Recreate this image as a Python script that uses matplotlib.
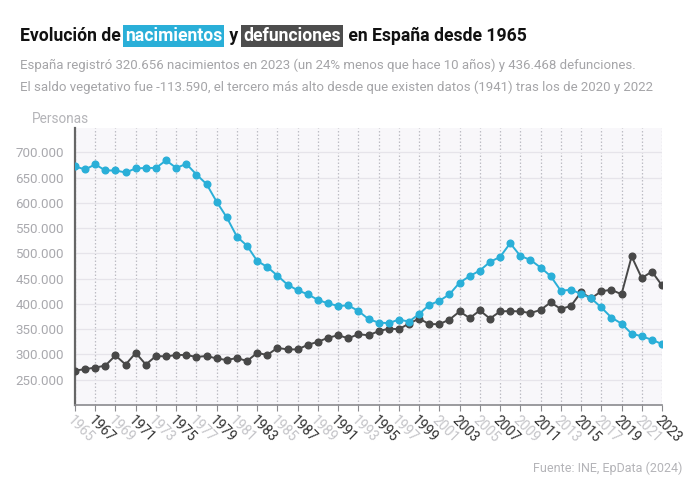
import matplotlib
matplotlib.use("Agg")
import matplotlib.pyplot as plt
from matplotlib.ticker import FuncFormatter

years = list(range(1965, 2024))
nacimientos = [672000, 666000, 676000, 664000, 664000, 660000, 668000, 669000, 669000, 684000,
               669000, 677000, 656000, 637000, 602000, 571000, 533000, 515000, 485000, 473000,
               456000, 438000, 427000, 419000, 408000, 401000, 396000, 397000, 386000, 370000,
               363000, 362000, 369000, 365000, 380000, 398000, 406000, 419000, 442000, 455000,
               466000, 483000, 493000, 520000, 495000, 487000, 472000, 455000, 426000, 428000,
               420000, 411000, 393000, 373000, 361000, 341000, 336000, 329000, 320656]
defunciones = [268000, 271000, 274000, 278000, 298000, 280000, 303000, 280000, 297000, 296000,
               299000, 299000, 295000, 297000, 292000, 289000, 293000, 287000, 303000, 299000,
               313000, 310000, 310000, 319000, 325000, 333000, 338000, 332000, 340000, 338000,
               346000, 351000, 350000, 361000, 371000, 360000, 360000, 369000, 385000, 372000,
               387000, 371000, 385000, 386000, 385000, 382000, 388000, 403000, 390000, 396000,
               423000, 411000, 425000, 428000, 419000, 494000, 451000, 464000, 436468]
tick_years = list(range(1965, 2024, 2))
y_ticks = list(range(250000, 700001, 50000))

C_NAC = "#2aafd8"
C_DEF = "#484848"
GRAY = "#a9a9ae"

plt.rcParams['font.family'] = ['Roboto', 'DejaVu Sans']

W, H = 690, 498
fig = plt.figure(figsize=(W / 100, H / 100), dpi=100)
ax = fig.add_axes([75 / W, 1 - 405 / H, (662 - 75) / W, (405 - 128) / H])
ax.set_facecolor("#f8f7fa")

ax.plot(years, defunciones, color=C_DEF, lw=1.4, marker="o", ms=4.8, zorder=3)
ax.plot(years, nacimientos, color=C_NAC, lw=1.4, marker="o", ms=4.8, zorder=4)

ax.set_xlim(1965, 2023)
ax.set_ylim(200000, 748000)
ax.set_xticks(tick_years)
ax.set_yticks(y_ticks)
ax.yaxis.set_major_formatter(FuncFormatter(lambda v, p: f"{int(v):,}".replace(",", ".")))
ax.grid(axis="x", color="#bdbdc4", linestyle=(0, (1.2, 1.6)), lw=0.9, zorder=1)
ax.grid(axis="y", color="#e6e4ea", linestyle="-", lw=0.9, zorder=1)
for s in ["top", "right"]:
    ax.spines[s].set_visible(False)
ax.spines["left"].set_color("#666666")
ax.spines["left"].set_linewidth(1.6)
ax.spines["bottom"].set_color("#8a8a8e")
ax.spines["bottom"].set_linewidth(1.2)
ax.tick_params(axis="y", length=0, labelsize=9.6, labelcolor=GRAY, pad=8)
ax.tick_params(axis="x", length=4, color="#8a8a8e", labelsize=10, pad=2)
ax.set_xticklabels([str(y) for y in tick_years], rotation=-45, ha="left", rotation_mode="anchor")
for i, lbl in enumerate(ax.get_xticklabels()):
    lbl.set_color("#c4c4c8" if i % 2 == 0 else "#333333")

# Title with highlighted words
fig.canvas.draw()
r = fig.canvas.get_renderer()
x = 20
ty = 1 - 41 / H
parts = [("Evolución de ", None), ("nacimientos", C_NAC), (" y ", None),
         ("defunciones", "#4d4d4d"), (" en España desde 1965", None)]
for txt, bg in parts:
    kw = dict(fontsize=12.7, fontweight="bold", va="baseline", ha="left")
    if bg is None:
        t = fig.text(x / W, ty, txt, color="#111111", **kw)
    else:
        t = fig.text(x / W, ty, txt, color="white",
                     bbox=dict(facecolor=bg, edgecolor="none", pad=1.5), **kw)
    bb = t.get_window_extent(r)
    x += bb.width
    if bg is not None:
        x += 3

fig.text(20 / W, 1 - 69 / H,
         "España registró 320.656 nacimientos en 2023 (un 24% menos que hace 10 años) y 436.468 defunciones.",
         fontsize=9.55, color="#a5a5a8", va="baseline", ha="left")
fig.text(20 / W, 1 - 91 / H,
         "El saldo vegetativo fue -113.590, el tercero más alto desde que existen datos (1941) tras los de 2020 y 2022",
         fontsize=9.55, color="#a5a5a8", va="baseline", ha="left")
fig.text(32 / W, 1 - 123 / H, "Personas", fontsize=9.8, color="#b4b4b8", va="baseline", ha="left")
fig.text(682 / W, 1 - 472 / H, "Fuente: INE, EpData (2024)", fontsize=9, color="#b4b4b8",
         va="baseline", ha="right")

fig.savefig("out.png", dpi=100)
